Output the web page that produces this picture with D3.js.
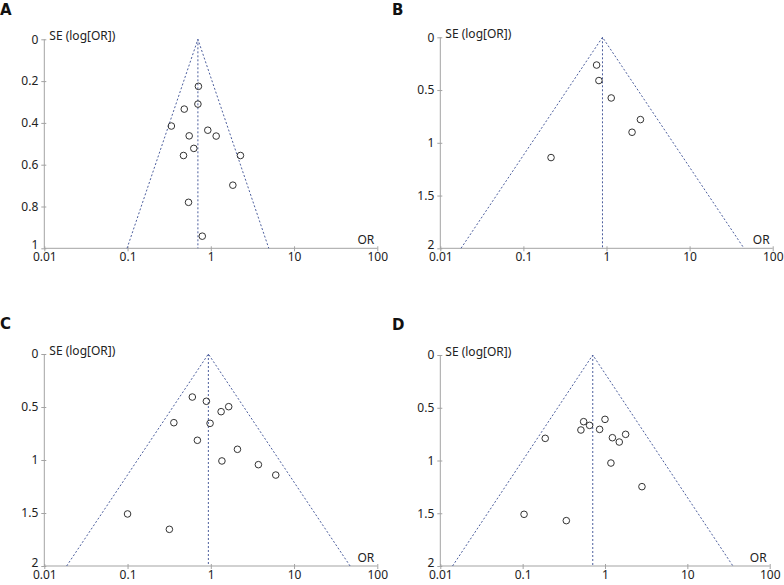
<!DOCTYPE html>
<html>
<head>
<meta charset="utf-8">
<script src="https://cdn.jsdelivr.net/npm/d3@7"></script>
<style>
  html, body { margin: 0; padding: 0; background: #fff; }
  svg { display: block; }
</style>
</head>
<body>
<svg id="chart" width="784" height="585"></svg>
<script>
// ---- Data ----
const panelLabels = ["A", "B", "C", "D"];
const xTickValues = [0.01, 0.1, 1, 10, 100];
const xTickLabels = ["0.01", "0.1", "1", "10", "100"];

const yTicksA = [0, 0.2, 0.4, 0.6, 0.8, 1];
const yTickLabelsA = ["0", "0.2", "0.4", "0.6", "0.8", "1"];
const yTicksBCD = [0, 0.5, 1, 1.5, 2];
const yTickLabelsBCD = ["0", "0.5", "1", "1.5", "2"];

const pooledOR = [0.70, 0.895, 0.935, 0.71];
const seMax = [1, 2, 2, 2];

const orA = [0.71, 0.70, 0.48, 0.336, 0.92, 1.16, 0.55, 0.625, 0.47, 2.27, 1.84, 0.54, 0.79];
const seA = [0.225, 0.31, 0.334, 0.415, 0.435, 0.463, 0.462, 0.522, 0.556, 0.556, 0.698, 0.78, 0.942];

const orB = [0.76, 0.81, 1.14, 2.56, 2.03, 0.215];
const seB = [0.263, 0.41, 0.575, 0.78, 0.90, 1.14];

const orC = [0.60, 0.885, 1.64, 1.33, 0.36, 0.98, 0.69, 2.09, 1.36, 3.73, 6.03, 0.10, 0.318];
const seC = [0.406, 0.446, 0.497, 0.544, 0.648, 0.654, 0.814, 0.899, 1.009, 1.044, 1.142, 1.509, 1.654];

const orD = [0.55, 1.0, 0.65, 0.51, 0.86, 0.188, 1.23, 1.78, 1.49, 1.18, 2.81, 0.104, 0.339];
const seD = [0.632, 0.61, 0.667, 0.711, 0.705, 0.79, 0.784, 0.752, 0.825, 1.024, 1.248, 1.51, 1.57];

// ---- Layout ----
const layout = [
  { x0: 44.3, x1: 377.3, yTop: 39.3, yBot: 248.3, lx: 0, ly: 15 },
  { x0: 440.3, x1: 772.7, yTop: 37.3, yBot: 248.3, lx: 392, ly: 15 },
  { x0: 44.3, x1: 377.3, yTop: 354, yBot: 566, lx: 0, ly: 329 },
  { x0: 440.3, x1: 769.7, yTop: 355, yBot: 566, lx: 392, ly: 330 }
];
const orSets = [orA, orB, orC, orD];
const seSets = [seA, seB, seC, seD];
const yTickSets = [yTicksA, yTicksBCD, yTicksBCD, yTicksBCD];
const yTickLabelSets = [yTickLabelsA, yTickLabelsBCD, yTickLabelsBCD, yTickLabelsBCD];

const FONT = "'Noto Sans', 'DejaVu Sans', sans-serif";
const FS = 12;
const axisColor = "#a3a3a3";
const dashColor = "#4d5f9e";
const svg = d3.select("#chart");

panelLabels.forEach((lab, i) => {
  const L = layout[i];
  const x = d3.scaleLog().domain([0.01, 100]).range([L.x0, L.x1]);
  const y = d3.scaleLinear().domain([0, seMax[i]]).range([L.yTop, L.yBot]);
  const g = svg.append("g");

  // panel letter
  svg.append("text").attr("x", L.lx).attr("y", L.ly)
    .attr("font-family", "'DejaVu Sans', sans-serif").attr("font-weight", "bold").attr("font-size", 15)
    .attr("fill", "#111").text(lab);

  // x axis
  const xAxis = d3.axisBottom(x).tickValues(xTickValues)
    .tickFormat((d, k) => xTickLabels[k]).tickSize(3).tickPadding(1);
  const gx = g.append("g").attr("transform", `translate(0,${L.yBot})`).call(xAxis);
  gx.select(".domain").attr("stroke", axisColor).attr("d", `M${L.x0},0H${L.x1}`);
  gx.selectAll(".tick line").attr("stroke", axisColor).attr("y1", -2).attr("y2", 3);
  gx.selectAll(".tick text").attr("font-family", FONT).attr("font-size", FS).attr("fill", "#222");

  // y axis
  const yAxis = d3.axisLeft(y).tickValues(yTickSets[i])
    .tickFormat((d, k) => yTickLabelSets[i][k]).tickSize(3).tickPadding(3);
  const gy = g.append("g").attr("transform", `translate(${L.x0},0)`).call(yAxis);
  gy.select(".domain").attr("stroke", axisColor).attr("d", `M0,${L.yTop}V${L.yBot}`);
  gy.selectAll(".tick line").attr("stroke", axisColor).attr("x1", -3).attr("x2", 2);
  const nT = yTickSets[i].length;
  gy.selectAll(".tick text").attr("font-family", FONT).attr("font-size", FS).attr("fill", "#222")
    .attr("dy", (d, k) => k === nT - 1 ? "0.05em" : "0.32em");

  // axis titles
  g.append("text").attr("x", L.x0 + 5).attr("y", L.yTop + 1)
    .attr("font-family", FONT).attr("font-size", FS).attr("fill", "#222")
    .text("SE (log[OR])");
  g.append("text").attr("x", L.x1 - 3).attr("y", L.yBot - 4)
    .attr("text-anchor", "end")
    .attr("font-family", FONT).attr("font-size", FS).attr("fill", "#222")
    .text("OR");

  // funnel
  const c = pooledOR[i];
  const m = seMax[i];
  const funnel = [
    [c * Math.exp(-1.96 * m), m],
    [c, 0],
    [c * Math.exp(1.96 * m), m]
  ];
  g.append("path")
    .attr("d", d3.line().x(d => x(d[0])).y(d => y(d[1]))(funnel))
    .attr("fill", "none").attr("stroke", dashColor).attr("stroke-width", 1)
    .attr("stroke-dasharray", "2,2");
  g.append("path")
    .attr("d", d3.line().x(d => x(d[0])).y(d => y(d[1]))([[c, 0], [c, m]]))
    .attr("fill", "none").attr("stroke", dashColor).attr("stroke-width", 1)
    .attr("stroke-dasharray", "2,2");

  // studies
  const pts = orSets[i].map((o, k) => ({ or: o, se: seSets[i][k] }));
  g.selectAll("circle.pt").data(pts).enter().append("circle")
    .attr("class", "pt")
    .attr("cx", d => x(d.or)).attr("cy", d => y(d.se)).attr("r", 3.3)
    .attr("fill", "none").attr("stroke", "#333").attr("stroke-width", 1);
});
</script>
</body>
</html>
